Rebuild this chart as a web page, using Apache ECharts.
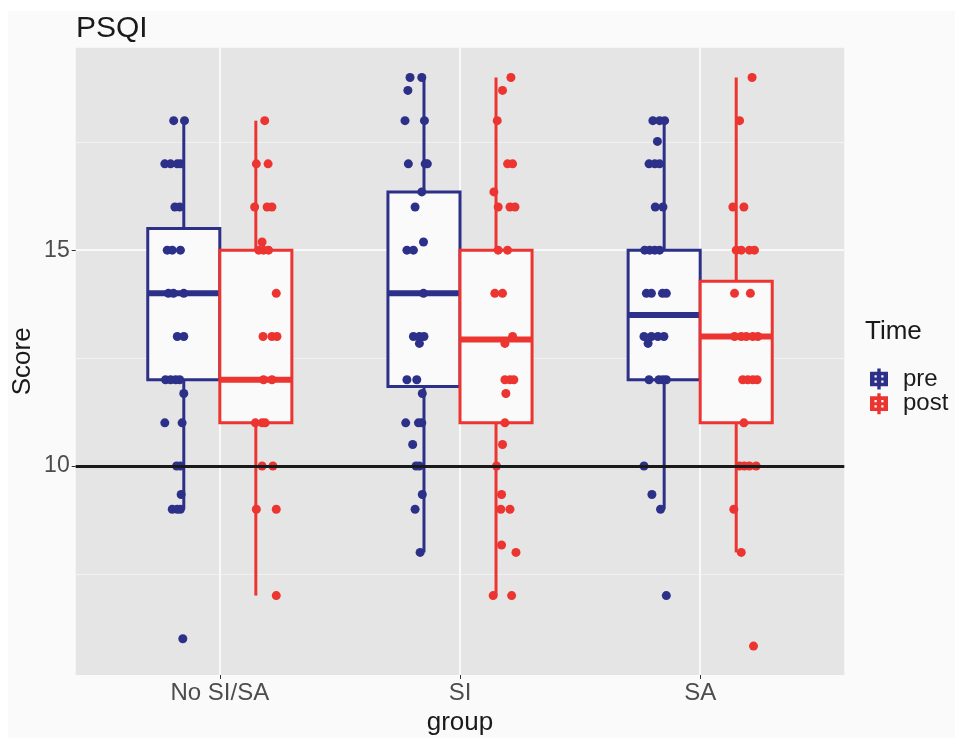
<!DOCTYPE html>
<html>
<head>
<meta charset="utf-8">
<script src="https://cdn.jsdelivr.net/npm/echarts@6/dist/echarts.min.js"></script>
<style>
  html, body { margin: 0; padding: 0; background: #ffffff; }
  #wrap { position: absolute; left: 8px; top: 11px; width: 947px; height: 727px; background: #fafafa; }
  #chart { width: 947px; height: 727px; }
</style>
</head>
<body>
<div id="wrap"><div id="chart"></div></div>
<script>
// ---- data ----
const groups = ['No SI/SA', 'SI', 'SA'];
const yTicks = [10, 15];
const yMinorGrid = [7.5, 12.5, 17.5];
const threshold = 10;
// box statistics: [lower whisker, Q1, median, Q3, upper whisker]
const preBox  = [[9, 12, 14, 15.5, 18], [8, 11.84, 14, 16.35, 19], [9, 12, 13.5, 15, 18]];
const postBox = [[7, 11, 12, 15, 18],   [7, 11, 12.93, 15, 19],    [8, 11, 13, 14.28, 19]];
// jittered points: [horizontal jitter (category units), score]
const preNoSISA = [[-0.042,18],[0.003,18],[-0.079,17],[-0.055,17],[-0.027,17],[-0.014,17],[-0.037,16],[-0.017,16],[-0.069,15],[-0.048,15],[-0.014,15],[-0.064,14],[-0.043,14],[0,14],[-0.027,13],[0,13],[-0.076,12],[-0.055,12],[-0.034,12],[-0.017,12],[0,11.68],[-0.079,11],[-0.007,11],[-0.030,10],[-0.014,10],[-0.011,9.34],[-0.048,9],[-0.027,9],[-0.014,9],[-0.004,6]];
const postNoSISA = [[0.037,18],[0.002,17],[0.051,17],[-0.005,16],[0.047,16],[0.067,16],[0.026,15.19],[0.012,15],[0.032,15],[0.053,15],[0.085,14],[0.030,13],[0.067,13],[0.088,13],[0.032,12],[0.067,12],[-0.002,11],[0.026,11],[0.039,11],[0.026,10],[0.071,10],[0.002,9],[0.085,9],[0.085,7]];
const preSI = [[-0.058,19],[-0.009,19],[-0.067,18.7],[-0.079,18],[0.002,18],[-0.065,17],[0.005,17],[0.014,17],[-0.009,16.35],[-0.037,16],[-0.002,15.19],[-0.071,15],[-0.044,15],[-0.002,14],[-0.044,13],[-0.019,13],[0,13],[-0.019,12.84],[-0.071,12],[-0.030,12],[-0.007,11.68],[-0.076,11],[-0.023,11],[-0.009,11],[-0.047,10.5],[-0.033,10],[-0.019,10],[-0.007,9.34],[-0.037,9],[-0.016,8]];
const postSI = [[0.062,19],[0.027,18.7],[0.005,18],[0.048,17],[0.069,17],[-0.009,16.35],[0.009,16],[0.058,16],[0.079,16],[0.009,15],[0.048,15],[-0.005,14],[0.027,14],[0.069,13],[0.037,12.84],[0.037,12],[0.058,12],[0.074,12],[0.041,11.68],[0.037,11],[0.027,10.5],[0.002,10],[0.023,9.34],[0.020,9],[0.058,9],[0.023,8.17],[0.083,8],[-0.012,7],[0.065,7]];
const preSA = [[-0.047,18],[-0.019,18],[0.002,18],[-0.028,17.52],[-0.063,17],[-0.039,17],[-0.019,17],[-0.037,16],[-0.005,16],[-0.081,15],[-0.060,15],[-0.039,15],[-0.019,15],[-0.074,14],[-0.053,14],[-0.007,14],[0.009,14],[-0.084,13],[-0.053,13],[-0.026,13],[-0.001,13],[-0.067,12.84],[-0.063,12],[-0.022,12],[-0.005,12],[0.009,12],[-0.084,10],[-0.051,9.34],[-0.015,9],[0.009,7]];
const postSA = [[0.066,19],[0.014,18],[-0.014,16],[0.032,16],[0,15],[0.021,15],[0.055,15],[0.076,15],[-0.007,14],[0.059,14],[-0.007,13],[0.021,13],[0.042,13],[0.069,13],[0.090,13],[0.027,12],[0.048,12],[0.069,12],[0.087,12],[0.032,11],[0.014,10],[0.034,10],[0.055,10],[0.083,10],[-0.010,9],[0.021,8],[0.072,5.83]];

// ---- styling / layout ----
const PRE = '#2d3088', POST = '#ec3530';
const DODGE = 0.15, HALF = 0.15;
const FONT = "'Liberation Sans', Arial, sans-serif";

function place(points, gi, side) {
  return points.map(p => [gi + 1 + side * DODGE + p[0], p[1]]);
}
const prePts = [].concat(place(preNoSISA, 0, -1), place(preSI, 1, -1), place(preSA, 2, -1));
const postPts = [].concat(place(postNoSISA, 0, 1), place(postSI, 1, 1), place(postSA, 2, 1));
const preBoxData = preBox.map((b, i) => [i + 1 - DODGE].concat(b));
const postBoxData = postBox.map((b, i) => [i + 1 + DODGE].concat(b));

function boxRenderer(color) {
  return function (params, api) {
    const x = api.value(0);
    const c = v => api.coord([x, v]);
    const lo = c(api.value(1)), q1 = c(api.value(2)), md = c(api.value(3)), q3 = c(api.value(4)), hi = c(api.value(5));
    const xl = api.coord([x - HALF, 10])[0], xr = api.coord([x + HALF, 10])[0];
    return {
      type: 'group',
      children: [
        { type: 'line', shape: { x1: lo[0], y1: q1[1], x2: lo[0], y2: lo[1] }, style: { stroke: color, lineWidth: 3 } },
        { type: 'line', shape: { x1: hi[0], y1: q3[1], x2: hi[0], y2: hi[1] }, style: { stroke: color, lineWidth: 3 } },
        { type: 'rect', shape: { x: xl, y: q3[1], width: xr - xl, height: q1[1] - q3[1] }, style: { fill: '#fafafa', stroke: color, lineWidth: 3 } },
        { type: 'line', shape: { x1: xl, y1: md[1], x2: xr, y2: md[1] }, style: { stroke: color, lineWidth: 6 } }
      ]
    };
  };
}

const legendIcon = 'path://M7 0H10V3H16.5V17H10V20H7V17H0.5V3H7Z M4.5 6.5V8.5H6.5V6.5Z M10.5 6.5V8.5H12.5V6.5Z M4.5 11.5V13.5H6.5V11.5Z M10.5 11.5V13.5H12.5V11.5Z';

const chart = echarts.init(document.getElementById('chart'), null, { renderer: 'canvas' });
chart.setOption({
  animation: false,
  backgroundColor: '#fafafa',
  title: {
    text: 'PSQI', left: 63, top: -2,
    textStyle: { fontFamily: FONT, fontSize: 30, fontWeight: 'normal', color: '#1a1a1a' }
  },
  grid: { left: 67.7, top: 36.7, right: 110.7, bottom: 63, show: true, backgroundColor: '#e5e5e5', borderWidth: 0,
    outerBoundsMode: 'none', containLabel: false },
  legend: {
    orient: 'vertical', left: 857, top: 351, itemWidth: 18, itemHeight: 21, itemGap: 0.7,
    selectedMode: false, symbolKeepAspect: false,
    textStyle: { fontFamily: FONT, fontSize: 24, color: '#1a1a1a', lineHeight: 21, padding: [0, 0, 0, 10] },
    data: [
      { name: 'pre', icon: legendIcon, itemStyle: { color: PRE } },
      { name: 'post', icon: legendIcon, itemStyle: { color: POST } }
    ]
  },
  graphic: [{
    type: 'text', left: 857, top: 308,
    style: { text: 'Time', fontFamily: FONT, fontSize: 26, fill: '#1a1a1a' }
  }],
  xAxis: {
    type: 'value', min: 0.4, max: 3.6,
    name: 'group', nameLocation: 'middle', nameGap: 32,
    nameTextStyle: { fontFamily: FONT, fontSize: 26, color: '#1a1a1a' },
    axisLine: { show: false },
    axisTick: { show: true, length: 4, customValues: [1, 2, 3], lineStyle: { color: '#333333', width: 1 } },
    axisLabel: { customValues: [1, 2, 3], formatter: v => groups[Math.round(v) - 1], margin: 6,
      fontFamily: FONT, fontSize: 24, color: '#4d4d4d' },
    splitLine: { show: true, lineStyle: { color: '#ffffff', width: 1.5 } }
  },
  yAxis: {
    type: 'value', min: 5.16, max: 19.69,
    name: 'Score', nameLocation: 'middle', nameGap: 40, nameMoveOverlap: false,
    nameTextStyle: { fontFamily: FONT, fontSize: 26, color: '#1a1a1a' },
    axisLine: { show: false },
    axisTick: { show: true, length: 4, customValues: yTicks, lineStyle: { color: '#333333', width: 1 } },
    axisLabel: { customValues: yTicks, margin: 6, fontFamily: FONT, fontSize: 23, color: '#4d4d4d' },
    splitLine: { show: true, lineStyle: { color: '#ffffff', width: 1.5 } }
  },
  series: [
    {
      name: 'minor-grid', type: 'line', data: [], silent: true,
      markLine: { z: 1, silent: true, symbol: 'none', label: { show: false },
        lineStyle: { color: '#f4f4f4', width: 0.8, type: 'solid' },
        data: yMinorGrid.map(v => ({ yAxis: v })) }
    },
    { name: 'pre', type: 'custom', z: 2, renderItem: boxRenderer(PRE), encode: { x: 0, y: [1, 2, 3, 4, 5] }, itemStyle: { color: PRE }, data: preBoxData },
    { name: 'post', type: 'custom', z: 2, renderItem: boxRenderer(POST), encode: { x: 0, y: [1, 2, 3, 4, 5] }, itemStyle: { color: POST }, data: postBoxData },
    { name: 'pre', type: 'scatter', z: 3, symbolSize: 9, itemStyle: { color: PRE, opacity: 1 }, data: prePts },
    { name: 'post', type: 'scatter', z: 3, symbolSize: 9, itemStyle: { color: POST, opacity: 1 }, data: postPts },
    {
      name: 'threshold', type: 'line', data: [], silent: true,
      markLine: { z: 10, silent: true, symbol: 'none', label: { show: false },
        lineStyle: { color: '#1a1a1a', width: 3, type: 'solid' },
        data: [{ yAxis: threshold }] }
    }
  ]
});
</script>
</body>
</html>
